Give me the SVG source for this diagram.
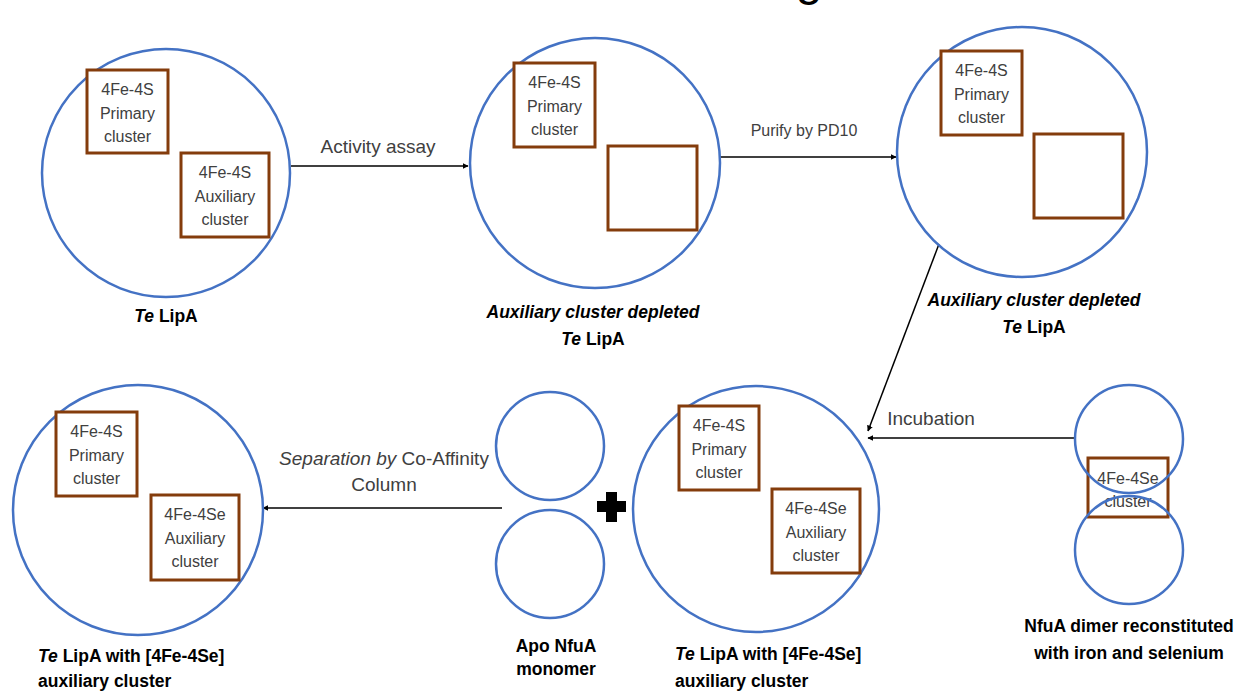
<svg xmlns="http://www.w3.org/2000/svg" width="1244" height="692" viewBox="0 0 1244 692">
<style>
.c{fill:none;stroke:#4472C4;stroke-width:2.5}
.b{fill:#fff;stroke:#843C0C;stroke-width:3}
.e{fill:none;stroke:#843C0C;stroke-width:3}
.bt{font-family:"Liberation Sans",Arial,sans-serif;font-size:16px;fill:#404040;text-anchor:middle}
.lb{font-family:"Liberation Sans",Arial,sans-serif;font-size:17.5px;font-weight:bold;fill:#000}
.el{font-family:"Liberation Sans",Arial,sans-serif;font-size:19px;fill:#404040;text-anchor:middle}
.ln{stroke:#000;stroke-width:1.5;fill:none;marker-end:url(#ah)}
</style>
<defs>
<marker id="ah" viewBox="0 0 10 10" refX="9" refY="5" markerWidth="6" markerHeight="6" orient="auto" markerUnits="userSpaceOnUse">
<path d="M0,0 L10,5 L0,10 z" fill="#000"/>
</marker>
</defs>
<rect width="1244" height="692" fill="#fff"/>
<text x="809" y="-5" font-family="Liberation Sans,Arial,sans-serif" font-size="48" fill="#000" text-anchor="middle">g</text>

<g id="connectors">
<line class="ln" x1="291" y1="166" x2="468" y2="166"/>
<text class="el" x="378" y="153">Activity assay</text>
<line class="ln" x1="720" y1="157" x2="896" y2="157"/>
<text class="el" x="804" y="136" style="font-size:16px">Purify by PD10</text>
<line class="ln" x1="939" y1="244" x2="868" y2="431"/>
<line class="ln" x1="1075" y1="438" x2="868" y2="438"/>
<text class="el" x="931" y="425">Incubation</text>
<line class="ln" x1="502" y1="508" x2="263" y2="508"/>
<text class="el" x="384" y="465"><tspan font-style="italic">Separation by</tspan> Co-Affinity</text>
<text class="el" x="384" y="491">Column</text>
</g>

<g id="node-telipa">
<circle class="c" cx="166" cy="173" r="124"/>
<rect class="b" x="87" y="70" width="81" height="83"/>
<text class="bt" x="127.5" y="95">4Fe-4S</text>
<text class="bt" x="127.5" y="118.5">Primary</text>
<text class="bt" x="127.5" y="142">cluster</text>
<rect class="b" x="181" y="153" width="88" height="84"/>
<text class="bt" x="225" y="178">4Fe-4S</text>
<text class="bt" x="225" y="201.5">Auxiliary</text>
<text class="bt" x="225" y="225">cluster</text>
<text class="lb" x="166" y="322" text-anchor="middle"><tspan font-style="italic">Te</tspan> LipA</text>
</g>

<g id="node-depleted1">
<circle class="c" cx="595" cy="163" r="125"/>
<rect class="b" x="514" y="63" width="81" height="84"/>
<text class="bt" x="554.5" y="88">4Fe-4S</text>
<text class="bt" x="554.5" y="111.5">Primary</text>
<text class="bt" x="554.5" y="135">cluster</text>
<rect class="e" x="608" y="146" width="89" height="84"/>
<text class="lb" x="593" y="318" text-anchor="middle" font-style="italic">Auxiliary cluster depleted</text>
<text class="lb" x="593" y="345" text-anchor="middle"><tspan font-style="italic">Te</tspan> LipA</text>
</g>

<g id="node-depleted2">
<circle class="c" cx="1022" cy="152" r="125"/>
<rect class="b" x="941" y="51" width="81" height="84"/>
<text class="bt" x="981.5" y="76">4Fe-4S</text>
<text class="bt" x="981.5" y="99.5">Primary</text>
<text class="bt" x="981.5" y="123">cluster</text>
<rect class="e" x="1034" y="134" width="89" height="84"/>
<text class="lb" x="1034" y="306" text-anchor="middle" font-style="italic">Auxiliary cluster depleted</text>
<text class="lb" x="1034" y="333" text-anchor="middle"><tspan font-style="italic">Te</tspan> LipA</text>
</g>

<g id="node-nfua-dimer">
<rect class="b" x="1088" y="458" width="80" height="59"/>
<text class="bt" x="1128" y="484">4Fe-4Se</text>
<text class="bt" x="1128" y="507">cluster</text>
<circle class="c" cx="1129" cy="439" r="54"/>
<circle class="c" cx="1129" cy="550" r="54"/>
<text class="lb" x="1129" y="632" text-anchor="middle">NfuA dimer reconstituted</text>
<text class="lb" x="1129" y="659" text-anchor="middle">with iron and selenium</text>
</g>

<g id="node-telipa-se-mid">
<circle class="c" cx="756" cy="509" r="123"/>
<rect class="b" x="679" y="406" width="80" height="84"/>
<text class="bt" x="719" y="431">4Fe-4S</text>
<text class="bt" x="719" y="454.5">Primary</text>
<text class="bt" x="719" y="478">cluster</text>
<rect class="b" x="772" y="489" width="88" height="84"/>
<text class="bt" x="816" y="514">4Fe-4Se</text>
<text class="bt" x="816" y="537.5">Auxiliary</text>
<text class="bt" x="816" y="561">cluster</text>
<text class="lb" x="675" y="660"><tspan font-style="italic">Te</tspan> LipA with [4Fe-4Se]</text>
<text class="lb" x="675" y="687">auxiliary cluster</text>
</g>

<g id="node-plus">
<path d="M606,492 H617 V501 H626 V512 H617 V522 H606 V512 H597 V501 H606 Z" fill="#000"/>
</g>

<g id="node-apo-nfua">
<circle class="c" cx="550" cy="446" r="54"/>
<circle class="c" cx="550" cy="564" r="54"/>
<text class="lb" x="556" y="652" text-anchor="middle">Apo NfuA</text>
<text class="lb" x="556" y="675" text-anchor="middle">monomer</text>
</g>

<g id="node-telipa-se-final">
<circle class="c" cx="138" cy="510" r="125"/>
<rect class="b" x="56" y="412" width="81" height="84"/>
<text class="bt" x="96.5" y="437">4Fe-4S</text>
<text class="bt" x="96.5" y="460.5">Primary</text>
<text class="bt" x="96.5" y="484">cluster</text>
<rect class="b" x="151" y="495" width="88" height="85"/>
<text class="bt" x="195" y="520">4Fe-4Se</text>
<text class="bt" x="195" y="543.5">Auxiliary</text>
<text class="bt" x="195" y="567">cluster</text>
<text class="lb" x="38" y="662"><tspan font-style="italic">Te</tspan> LipA with [4Fe-4Se]</text>
<text class="lb" x="38" y="687">auxiliary cluster</text>
</g>
</svg>
